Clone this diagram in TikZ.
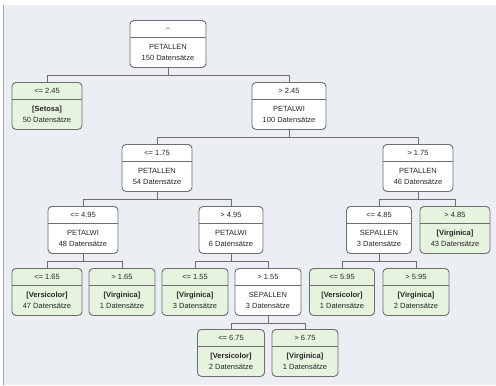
\documentclass[tikz,border=0pt]{standalone}
\usepackage{fontspec}
\setmainfont{Liberation Sans}
\definecolor{bgc}{HTML}{EBEEF2}
\definecolor{edgec}{HTML}{6E6E6E}
\definecolor{leafc}{HTML}{E6F3DE}
\definecolor{framec}{HTML}{A8A8A8}
\tikzset{
  x=1pt, y=1pt,
  tb/.style={draw=edgec, line width=0.9pt, rounded corners=4pt, inner sep=0pt},
  inner/.style={tb, fill=white},
  leaf/.style={tb, fill=leafc},
  divline/.style={draw=edgec, line width=0.8pt},
  lbl/.style={inner sep=0pt, font=\fontsize{7.5}{11}\selectfont, text=black!85},
  conn/.style={draw=edgec, line width=0.9pt},
}
\newcommand\tbox[8]{%
  \node[#2, minimum width=#5pt, minimum height=47pt, anchor=north] (#1) at (#3,-#4) {};
  \draw[divline] ([yshift=-17pt]#1.north west) -- ([yshift=-17pt]#1.north east);
  \node[lbl] (#1h) at ([yshift=-9pt]#1.north) {#6};
  \node[lbl, align=center] (#1b) at ([yshift=-32.5pt]#1.north) {#7\\#8};
}
\newcommand\tlink[2]{%
  \draw[conn] (#1.south) -- ([yshift=-8pt]#1.south) -| (#2.north);
}
\begin{document}
\begin{tikzpicture}
\fill[white] (0,0) rectangle (496,-385);
\fill[bgc] (4,-5) rectangle (496,-385);
\draw[framec, line width=1pt] (3.5,-5) -- (3.5,-385);
\useasboundingbox (0,0) rectangle (496,-385);

\tbox{root}{inner}{168}{20}{76}{\textendash}{PETALLEN}{150 Datensätze}
\tbox{setosa}{leaf}{47}{82}{70}{<= 2.45}{\textbf{[Setosa]}}{50 Datensätze}
\tbox{pw}{inner}{289}{82}{74}{> 2.45}{PETALWI}{100 Datensätze}
\tbox{plA}{inner}{157}{144}{70}{<= 1.75}{PETALLEN}{54 Datensätze}
\tbox{plB}{inner}{418}{144}{70}{> 1.75}{PETALLEN}{46 Datensätze}
\tbox{pwA}{inner}{83}{206}{70}{<= 4.95}{PETALWI}{48 Datensätze}
\tbox{pwB}{inner}{231}{206}{64}{> 4.95}{PETALWI}{6 Datensätze}
\tbox{slA}{inner}{379}{206}{65}{<= 4.85}{SEPALLEN}{3 Datensätze}
\tbox{virA}{leaf}{455}{206}{70}{> 4.85}{\textbf{[Virginica]}}{43 Datensätze}
\tbox{verA}{leaf}{47}{268}{70}{<= 1.65}{\textbf{[Versicolor]}}{47 Datensätze}
\tbox{virB}{leaf}{122}{268}{66}{> 1.65}{\textbf{[Virginica]}}{1 Datensätze}
\tbox{virC}{leaf}{195}{268}{66}{<= 1.55}{\textbf{[Virginica]}}{3 Datensätze}
\tbox{slB}{inner}{268}{268}{66}{> 1.55}{SEPALLEN}{3 Datensätze}
\tbox{verB}{leaf}{342}{268}{65}{<= 5.95}{\textbf{[Versicolor]}}{1 Datensätze}
\tbox{virD}{leaf}{416}{268}{66}{> 5.95}{\textbf{[Virginica]}}{2 Datensätze}
\tbox{verC}{leaf}{231}{329}{67}{<= 6.75}{\textbf{[Versicolor]}}{2 Datensätze}
\tbox{virE}{leaf}{305}{329}{66}{> 6.75}{\textbf{[Virginica]}}{1 Datensätze}

\tlink{root}{setosa}
\tlink{root}{pw}
\tlink{pw}{plA}
\tlink{pw}{plB}
\tlink{plA}{pwA}
\tlink{plA}{pwB}
\tlink{plB}{slA}
\tlink{plB}{virA}
\tlink{pwA}{verA}
\tlink{pwA}{virB}
\tlink{pwB}{virC}
\tlink{pwB}{slB}
\tlink{slA}{verB}
\tlink{slA}{virD}
\tlink{slB}{verC}
\tlink{slB}{virE}
\end{tikzpicture}
\end{document}
